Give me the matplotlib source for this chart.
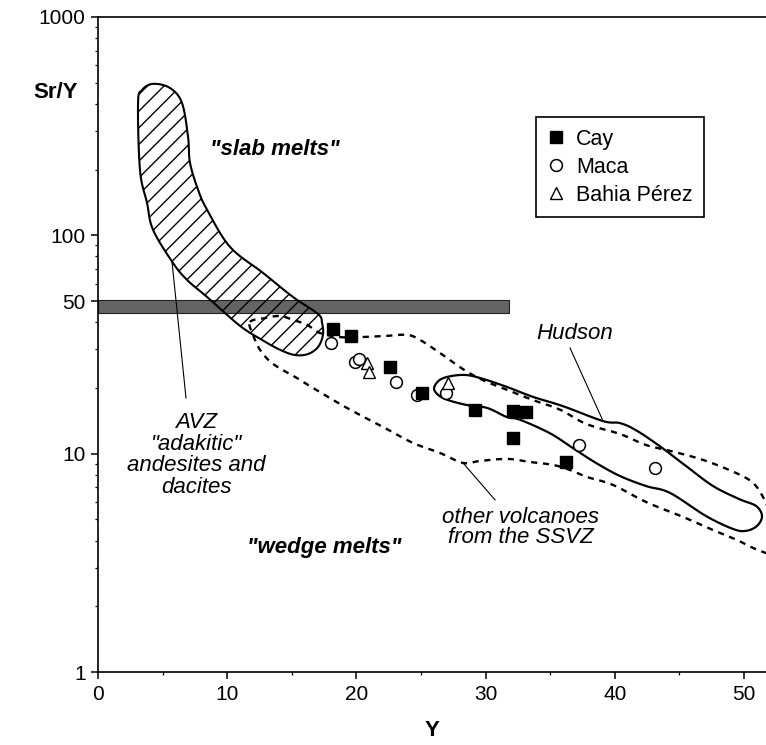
import numpy as np
import matplotlib
matplotlib.use("Agg")
import matplotlib.pyplot as plt
from matplotlib.patches import Polygon, Rectangle
from matplotlib.ticker import FixedLocator, FixedFormatter, LogLocator, MultipleLocator, NullFormatter

plt.rcParams['font.family'] = ['Liberation Sans', 'DejaVu Sans']
plt.rcParams['hatch.linewidth'] = 1.0

# sample data: Y (ppm) and Sr/Y
cay_y = [18.2, 19.6, 22.6, 25.1, 29.2, 32.1, 33.1, 32.1, 36.2]
cay_sry = [37.3, 34.6, 24.9, 19.0, 15.9, 15.7, 15.5, 11.8, 9.2]

maca_y = [18.0, 19.9, 20.2, 23.1, 24.7, 26.9, 37.2, 43.1]
maca_sry = [32.1, 26.3, 27.2, 21.3, 18.6, 19.0, 10.9, 8.6]

bahia_y = [20.8, 21.0, 27.1]
bahia_sry = [26.0, 23.7, 21.1]

# field outlines (Y, Sr/Y), traced clockwise
avz_y = [4.26, 5.57, 6.50, 6.97, 7.12, 7.74, 8.44, 10.22, 12.77, 15.09, 17.03,
         17.34, 17.41, 17.03, 16.25, 15.25, 14.09, 12.69, 10.99, 8.44, 6.89,
         5.80, 4.26, 3.79, 3.25, 3.10, 3.41]
avz_sry = [494, 473, 404, 282, 215, 162, 131, 88.5, 67.3, 52.2, 43.6,
           39.7, 35.0, 30.8, 28.6, 28.3, 29.9, 33.2, 38.5, 52.2, 62.5,
           74.8, 106, 141, 199, 404, 463]

hudson_y = [26.01, 26.47, 27.40, 28.56, 29.80, 31.66, 33.67, 35.99, 39.09, 40.40,
            41.64, 43.50, 45.51, 47.60, 49.61, 50.93, 51.39, 51.01, 50.15, 49.15,
            47.06, 44.27, 42.41, 40.40, 38.54, 36.76, 34.98, 32.66, 31.66, 30.11,
            28.56, 27.09, 26.32]
hudson_sry = [20.0, 21.8, 22.7, 22.9, 22.0, 20.2, 18.2, 16.5, 14.1, 13.8,
              12.8, 10.8, 8.78, 7.11, 6.20, 5.76, 5.18, 4.67, 4.43, 4.52,
              5.18, 6.61, 7.11, 7.90, 9.07, 10.6, 12.4, 14.3, 14.7, 16.2,
              16.7, 17.6, 18.6]

# the SSVZ field runs past the right edge of the axes
ssvz_y = [11.76, 12.93, 14.09, 15.09, 16.18, 17.18, 18.73, 20.28, 22.21, 23.92,
          24.92, 26.47, 28.02, 29.02, 30.11, 31.66, 33.67, 35.76, 37.77, 40.40,
          42.41, 44.27, 46.83, 49.38, 50.70, 51.47, 52.2, 53.2, 52.8, 51.08,
          49.46, 47.60, 45.28, 42.41, 39.86, 37.85, 36.53, 35.22, 33.44, 31.66,
          29.57, 28.25, 26.47, 24.38, 22.21, 19.27, 16.64, 15.40, 13.54, 12.54,
          12.00]
ssvz_sry = [40.1, 41.8, 42.7, 41.0, 38.9, 35.7, 34.2, 34.2, 34.6, 35.0,
            33.2, 28.9, 24.9, 22.9, 21.3, 19.6, 17.6, 15.9, 13.7, 12.3,
            10.96, 10.3, 9.36, 8.16, 7.34, 6.33, 5.1, 4.0, 3.4, 3.62,
            4.02, 4.47, 5.13, 6.01, 7.19, 7.82, 8.42, 8.88, 9.16, 9.46,
            9.26, 9.07, 10.07, 11.2, 13.1, 16.2, 20.0, 22.2, 25.8, 29.9,
            35.0]

# Sr/Y = 50 boundary band
band_y = [0, 31.8]
band_sry = [44.0, 50.5]

yticks = [1, 10, 50, 100, 1000]


def smooth_closed(xs, ys, n=16):
    """Closed Catmull-Rom outline through the traced points (log-y space)."""
    pts = np.column_stack([np.asarray(xs, float), np.log10(ys)])
    N = len(pts)
    t = np.linspace(0, 1, n, endpoint=False)[:, None]
    segs = []
    for i in range(N):
        p0, p1, p2, p3 = pts[i - 1], pts[i], pts[(i + 1) % N], pts[(i + 2) % N]
        segs.append(0.5 * (2 * p1 + (p2 - p0) * t
                           + (2 * p0 - 5 * p1 + 4 * p2 - p3) * t ** 2
                           + (3 * p1 - p0 - 3 * p2 + p3) * t ** 3))
    out = np.vstack(segs)
    return np.column_stack([out[:, 0], 10 ** out[:, 1]])


fig = plt.figure(figsize=(7.66, 7.45), dpi=100)
ax = fig.add_axes([98 / 766, 73 / 745, 668 / 766, 655 / 745])
ax.set_yscale('log')
ax.set_xlim(0, 51.7)
ax.set_ylim(1, 1000)

# Sr/Y = 50 band
ax.add_patch(Rectangle((band_y[0], band_sry[0]), band_y[1] - band_y[0],
                       band_sry[1] - band_sry[0], facecolor='#646464',
                       edgecolor='#222222', lw=0.8, zorder=1))

# other SSVZ volcanoes (dashed)
ssvz = smooth_closed(ssvz_y, ssvz_sry)
ax.add_patch(Polygon(ssvz, closed=True, fill=False, edgecolor='black',
                     lw=1.7, linestyle=(0, (2.6, 2.4)), zorder=2))

# AVZ adakitic field (hatched)
avz = smooth_closed(avz_y, avz_sry)
ax.add_patch(Polygon(avz, closed=True, facecolor='none', edgecolor='black',
                     hatch='//', lw=1.5, zorder=3))

# Hudson field
hud = smooth_closed(hudson_y, hudson_sry)
ax.add_patch(Polygon(hud, closed=True, fill=False, edgecolor='black',
                     lw=1.6, zorder=3))

# leader lines
ax.plot([5.73, 6.81], [75.5, 18.0], color='black', lw=0.8, zorder=4)
ax.plot([36.53, 39.09], [30.5, 14.1], color='black', lw=0.8, zorder=4)
ax.plot([28.25, 30.73], [9.07, 6.14], color='black', lw=0.8, zorder=4)

# samples
ax.plot(cay_y, cay_sry, 's', ms=8.5, mfc='black', mec='black', label='Cay', zorder=6)
ax.plot(maca_y, maca_sry, 'o', ms=8.5, mfc='white', mec='black', mew=1.1,
        label='Maca', zorder=5)
ax.plot(bahia_y, bahia_sry, '^', ms=8, mfc='white', mec='black', mew=1.0,
        label='Bahia Pérez', zorder=5)

# annotations
ax.text(13.7, 246, '"slab melts"', fontsize=16, fontweight='bold', style='italic',
        ha='center', va='center')
ax.text(17.5, 3.7, '"wedge melts"', fontsize=16, fontweight='bold', style='italic',
        ha='center', va='center')
ax.text(36.9, 35.4, 'Hudson', fontsize=16, style='italic', ha='center', va='center')
ax.text(7.6, 9.85, 'AVZ\n"adakitic"\nandesites and\ndacites', fontsize=16,
        style='italic', ha='center', va='center', linespacing=1.05)
ax.text(32.7, 4.6, 'other volcanoes\nfrom the SSVZ', fontsize=16, style='italic',
        ha='center', va='center', linespacing=0.95)

# axes styling
ax.spines['right'].set_visible(False)
for s in ('left', 'bottom', 'top'):
    ax.spines[s].set_linewidth(1.2)

ax.yaxis.set_major_locator(FixedLocator(yticks))
ax.yaxis.set_major_formatter(FixedFormatter([str(v) for v in yticks]))
ax.yaxis.set_minor_locator(LogLocator(base=10, subs=np.arange(2, 10)))
ax.yaxis.set_minor_formatter(NullFormatter())
ax.xaxis.set_major_locator(MultipleLocator(10))
ax.xaxis.set_minor_locator(MultipleLocator(5))
ax.tick_params(which='major', direction='out', length=5, width=1.1,
               labelsize=15, pad=4, top=False, right=False)
ax.tick_params(which='minor', direction='out', length=2.5, width=0.9,
               top=False, right=False)

ax.set_xlabel('Y', fontsize=16, fontweight='bold', va='center')
ax.xaxis.set_label_coords(0.5, -0.09)
ax.set_ylabel('Sr/Y', fontsize=16, fontweight='bold', rotation=0,
              ha='center', va='center')
ax.yaxis.set_label_coords(-0.064, 0.885)

leg = ax.legend(loc='upper left', bbox_to_anchor=(536 / 766, 1 - 117 / 745),
                bbox_transform=fig.transFigure, fontsize=15.5, frameon=True,
                fancybox=False, edgecolor='black', framealpha=1,
                handlelength=0.8, handletextpad=0.5, borderpad=0.55,
                labelspacing=0.32, borderaxespad=0)
leg.get_frame().set_linewidth(1.2)

fig.savefig('out.png', dpi=100)
